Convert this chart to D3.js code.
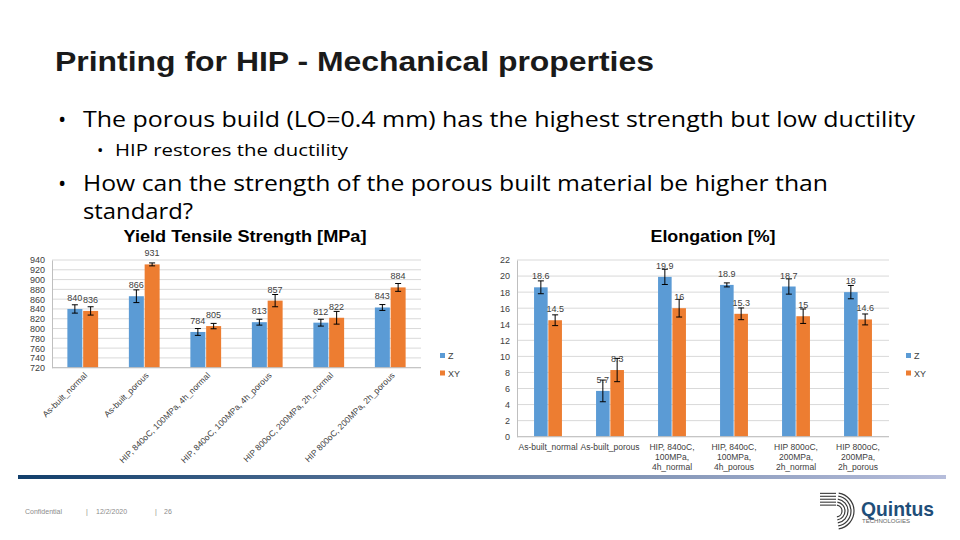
<!DOCTYPE html>
<html><head><meta charset="utf-8">
<script src="https://cdnjs.cloudflare.com/ajax/libs/d3/7.8.5/d3.min.js"></script>
<style>html,body{margin:0;padding:0;background:#fff;}svg{display:block;}</style>
</head><body>
<svg id="c" width="960" height="540"></svg>
<script>
// ---------- data ----------
const categories = ["As-built_normal","As-built_porous","HIP, 840oC, 100MPa, 4h_normal","HIP, 840oC, 100MPa, 4h_porous","HIP 800oC, 200MPa, 2h_normal","HIP 800oC, 200MPa, 2h_porous"];
const categoryLines = [["As-built_normal"],["As-built_porous"],["HIP, 840oC,","100MPa,","4h_normal"],["HIP, 840oC,","100MPa,","4h_porous"],["HIP 800oC,","200MPa,","2h_normal"],["HIP 800oC,","200MPa,","2h_porous"]];
const seriesNames = ["Z","XY"];
// Yield tensile strength [MPa]
const ytsZ = [840, 866, 793, 813, 812, 843];
const ytsZLabels = ["840","866","784","813","812","843"];
const ytsZErr = [8.5, 13, 7, 6, 7, 6];
const ytsXY = [836, 931, 805, 857, 822, 884];
const ytsXYLabels = ["836","931","805","857","822","884"];
const ytsXYErr = [8.5, 3, 5.5, 12.5, 13, 8];
const ytsTicks = [720,740,760,780,800,820,840,860,880,900,920,940];
// Elongation [%]
const elZ = [18.6, 5.7, 19.9, 18.9, 18.7, 18];
const elZErr = [0.8, 1.35, 0.95, 0.25, 0.95, 0.83];
const elXY = [14.5, 8.3, 16, 15.3, 15, 14.6];
const elXYErr = [0.67, 1.45, 1.1, 0.73, 0.9, 0.68];
const elTicks = [0,2,4,6,8,10,12,14,16,18,20,22];

const colors = {Z:"#5b9bd5", XY:"#ed7d31"};
const svg = d3.select("#c");
const AX = "Liberation Sans, Arial, sans-serif";
const BODY = "'Open Sans', 'Noto Sans', sans-serif";

// ---------- slide text ----------
svg.append("text").attr("x",55).attr("y",71).attr("font-family",AX).attr("font-size",27)
  .attr("font-weight","bold").attr("fill","#1a1a1a").attr("textLength",599).attr("lengthAdjust","spacingAndGlyphs")
  .text("Printing for HIP - Mechanical properties");
function bullet(x, tx, y, size, txt, len){
  svg.append("text").attr("x",x).attr("y",y).attr("font-family",BODY).attr("font-size",size).attr("fill","#000").text("•");
  const t = svg.append("text").attr("x",tx).attr("y",y).attr("font-family",BODY).attr("font-size",size).attr("fill","#000").text(txt);
  if(len) t.attr("textLength",len).attr("lengthAdjust","spacingAndGlyphs");
}
bullet(58, 83, 127, 22, "The porous build (LO=0.4 mm) has the highest strength but low ductility", 832);
bullet(97, 115, 156, 17, "HIP restores the ductility", 233);
bullet(58, 83, 191, 22, "How can the strength of the porous built material be higher than", 745);
svg.append("text").attr("x",83).attr("y",219).attr("font-family",BODY).attr("font-size",22).attr("fill","#000")
  .attr("textLength",110).attr("lengthAdjust","spacingAndGlyphs").text("standard?");

// ---------- generic grouped bar chart ----------
function chart(opt){
  const g = svg.append("g");
  const x0 = d3.scaleBand().domain(categories).range([opt.x0, opt.x1]).paddingInner(opt.pin).paddingOuter(opt.pin/2);
  const x1 = d3.scaleBand().domain(seriesNames).range([0, x0.bandwidth()]).paddingInner(0.05);
  const y = d3.scaleLinear().domain(opt.domain).range([opt.yb, opt.yt]);
  // grid
  g.selectAll("line.grid").data(opt.ticks).join("line")
    .attr("x1",opt.x0).attr("x2",opt.x1).attr("y1",d=>y(d)).attr("y2",d=>y(d))
    .attr("stroke","#d9d9d9").attr("stroke-width",1);
  // y axis
  const ya = d3.axisLeft(y).tickValues(opt.ticks).tickSize(0).tickPadding(opt.tp);
  const yg = g.append("g").attr("transform",`translate(${opt.x0},0)`).call(ya);
  yg.select(".domain").attr("stroke","#bfbfbf");
  yg.selectAll("text").attr("font-family",AX).attr("font-size",9).attr("fill","#404040");
  // bars
  const series = [{k:"Z",v:opt.z,e:opt.ze,l:opt.zl},{k:"XY",v:opt.xy,e:opt.xye,l:opt.xyl}];
  series.forEach(s=>{
    const gg = g.append("g");
    gg.selectAll("rect").data(categories).join("rect")
      .attr("x",(c)=>x0(c)+x1(s.k)).attr("width",x1.bandwidth())
      .attr("y",(c,i)=>y(s.v[i])).attr("height",(c,i)=>y(opt.domain[0])-y(s.v[i]))
      .attr("fill",colors[s.k]);
    categories.forEach((c,i)=>{
      const cx = x0(c)+x1(s.k)+x1.bandwidth()/2;
      const t = y(s.v[i]+s.e[i]), b = y(s.v[i]-s.e[i]);
      gg.append("line").attr("x1",cx).attr("x2",cx).attr("y1",t).attr("y2",b).attr("stroke","#000");
      gg.append("line").attr("x1",cx-3).attr("x2",cx+3).attr("y1",t).attr("y2",t).attr("stroke","#000");
      gg.append("line").attr("x1",cx-3).attr("x2",cx+3).attr("y1",b).attr("y2",b).attr("stroke","#000");
      gg.append("text").attr("x",cx).attr("y",y(s.v[i])-8).attr("text-anchor","middle")
        .attr("font-family",AX).attr("font-size",9).attr("fill","#404040")
        .text(s.l ? s.l[i] : String(s.v[i]));
    });
  });
  // bottom axis line
  g.append("line").attr("x1",opt.x0).attr("x2",opt.x1).attr("y1",y(opt.domain[0])).attr("y2",y(opt.domain[0])).attr("stroke","#bfbfbf");
  // title
  g.append("text").attr("x",opt.tx).attr("y",242).attr("text-anchor","middle").attr("font-family",AX)
    .attr("font-size",16).attr("font-weight","bold").attr("fill","#000")
    .attr("textLength",opt.tl).attr("lengthAdjust","spacingAndGlyphs").text(opt.title);
  // legend
  seriesNames.forEach((n,i)=>{
    g.append("rect").attr("x",opt.lx).attr("y",opt.ly+i*17.5-3).attr("width",5).attr("height",5).attr("fill",colors[n]);
    g.append("text").attr("x",opt.lx+8).attr("y",opt.ly+i*17.5+3).attr("font-family",AX).attr("font-size",9).attr("fill","#404040").text(n);
  });
  return {g,x0,y};
}

// left chart
const L = chart({x0:52,x1:421,pin:0.5,domain:[720,940],yb:367.7,yt:260,ticks:ytsTicks,tp:7,
  z:ytsZ,ze:ytsZErr,zl:ytsZLabels,xy:ytsXY,xye:ytsXYErr,xyl:ytsXYLabels,title:"Yield Tensile Strength [MPa]",tx:245,tl:243,lx:440,ly:356});
L.g.selectAll("text.xl").data(categories).join("text").attr("class","xl")
  .attr("transform",c=>`translate(${L.x0(c)+L.x0.bandwidth()/2+5},${376}) rotate(-45)`)
  .attr("text-anchor","end").attr("font-family",AX).attr("font-size",8.5).attr("fill","#404040").text(c=>c);

// right chart
const R = chart({x0:517,x1:889,pin:0.55,domain:[0,22],yb:436.7,yt:260,ticks:elTicks,tp:7,
  z:elZ,ze:elZErr,xy:elXY,xye:elXYErr,title:"Elongation [%]",tx:713,tl:125,lx:906,ly:356});
categories.forEach((c,i)=>{
  const cx = R.x0(c)+R.x0.bandwidth()/2;
  const t = R.g.append("text").attr("x",cx).attr("y",450).attr("text-anchor","middle")
    .attr("font-family",AX).attr("font-size",8.5).attr("fill","#404040");
  categoryLines[i].forEach((ln,j)=>t.append("tspan").attr("x",cx).attr("dy",j?10:0).text(ln));
});

// ---------- footer ----------
const defs = svg.append("defs");
const gr = defs.append("linearGradient").attr("id","fb");
gr.append("stop").attr("offset","0%").attr("stop-color","#123f6b");
gr.append("stop").attr("offset","55%").attr("stop-color","#6f86a8");
gr.append("stop").attr("offset","100%").attr("stop-color","#b6bddb");
svg.append("rect").attr("x",18).attr("y",475).attr("width",928).attr("height",4).attr("fill","url(#fb)");
[["Confidential",25],["|",86],["12/2/2020",96],["|",155],["26",164]].forEach(([t,x])=>{
  svg.append("text").attr("x",x).attr("y",514).attr("font-family",AX).attr("font-size",7).attr("fill","#8c8c8c").text(t);
});
// logo
const lg = svg.append("g").attr("transform","translate(836,511)");
[6,9,12,15,18].forEach(r=>{
  lg.append("path").attr("d",d3.arc()({innerRadius:r-0.6,outerRadius:r+0.6,startAngle:0.15,endAngle:Math.PI-0.15}))
    .attr("fill","#3a3a3a");
  lg.append("line").attr("x1",-16).attr("x2",0).attr("y1",-r*0.98).attr("y2",-r*0.98).attr("stroke","#3a3a3a").attr("stroke-width",1.1);
});
svg.append("text").attr("x",861).attr("y",516).attr("font-family",AX).attr("font-weight","bold").attr("font-size",21)
  .attr("fill","#1f4e79").attr("textLength",73).attr("lengthAdjust","spacingAndGlyphs").text("Quintus");
svg.append("text").attr("x",862).attr("y",523).attr("font-family",AX).attr("font-size",4.5)
  .attr("fill","#666").attr("textLength",48).attr("lengthAdjust","spacingAndGlyphs").text("TECHNOLOGIES");
</script>
</body></html>
